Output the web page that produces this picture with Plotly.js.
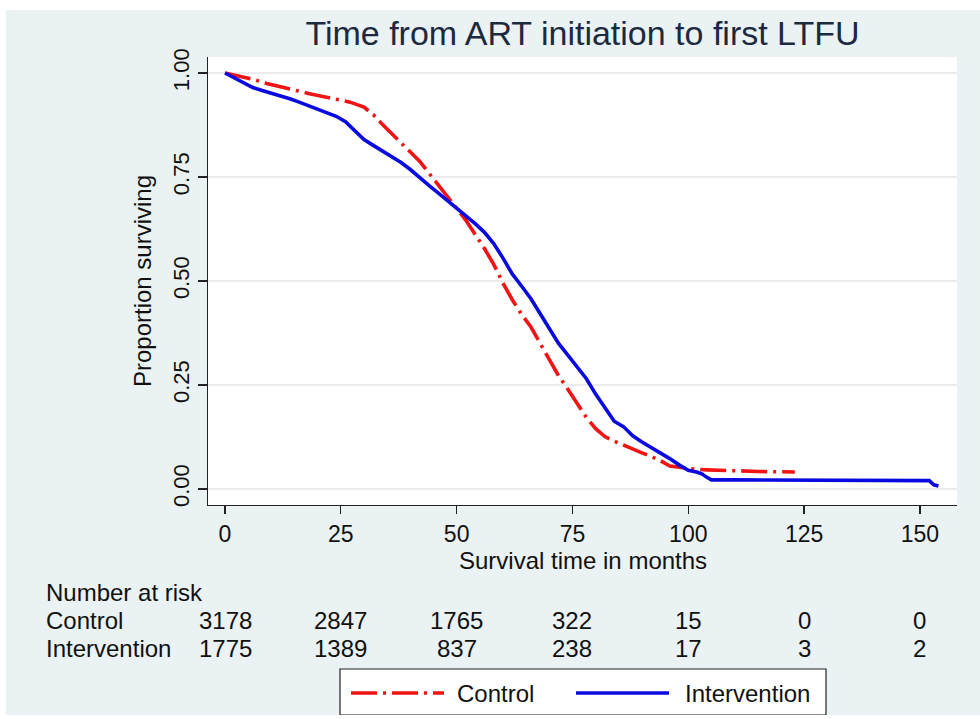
<!DOCTYPE html>
<html><head><meta charset="utf-8">
<script src="https://cdn.plot.ly/plotly-3.0.1.min.js"></script>
<style>
html,body{margin:0;padding:0;background:#ffffff;}
#chart{position:absolute;left:6px;top:10px;width:974px;height:705px;}
</style>
</head><body><div id="chart"></div>
<script>
// Kaplan-Meier estimates
const controlTime = [0,3,6,9,12,15,18,21,24,27,30,32,34,36,38,40,42,44,46,48,50,52,54,56,58,60,62,64,66,68,70,72,74,76,78,80,82,84,86,88,90,92,94,96,98,100,102,104,106,110,115,120,123];
const controlSurv = [1.000,0.993,0.985,0.975,0.966,0.959,0.951,0.944,0.938,0.930,0.918,0.900,0.876,0.853,0.831,0.810,0.788,0.760,0.732,0.704,0.675,0.646,0.612,0.578,0.540,0.495,0.455,0.420,0.390,0.350,0.310,0.272,0.240,0.205,0.172,0.145,0.126,0.115,0.105,0.096,0.087,0.078,0.068,0.055,0.052,0.050,0.047,0.046,0.046,0.044,0.042,0.041,0.041];

const interventionTime = [0,2,4,6,8,10,12,14,16,18,20,22,24,26,28,30,32,34,36,38,40,42,44,46,48,50,52,54,56,58,60,62,64,66,68,70,72,74,76,78,80,82,84,86,88,90,92,94,96,98,100,102,103,104,105,110,120,130,140,150,152,153,154];
const interventionSurv = [1.000,0.988,0.975,0.965,0.958,0.952,0.946,0.938,0.930,0.922,0.914,0.906,0.896,0.883,0.862,0.840,0.826,0.812,0.799,0.785,0.768,0.748,0.730,0.712,0.694,0.675,0.658,0.638,0.617,0.590,0.555,0.517,0.488,0.458,0.422,0.384,0.350,0.322,0.293,0.265,0.228,0.195,0.163,0.150,0.128,0.113,0.100,0.088,0.073,0.058,0.045,0.040,0.036,0.028,0.022,0.022,0.022,0.022,0.022,0.022,0.020,0.010,0.007];

const riskTimes = [0,25,50,75,100,125,150];
const controlAtRisk = [3178,2847,1765,322,15,0,0];
const interventionAtRisk = [1775,1389,837,238,17,3,2];

const xTickVals = [0,25,50,75,100,125,150];
const yTickVals = [0,0.25,0.5,0.75,1];
const yTickText = ['0.00','0.25','0.50','0.75','1.00'];

const seriesNames = ['Control','Intervention'];
const titleText = 'Time from ART initiation to first LTFU';
const xTitle = 'Survival time in months';
const yTitle = 'Proportion surviving';
const riskHeader = 'Number at risk';

const FONT = '"Liberation Sans", Arial, sans-serif';
const RED = '#f01414';
const BLUE = '#0a0ae0';
const RED_DASH = '26px,6px,3px,6px';

// page pixel -> paper coordinates of the plot area (208..957 x, 57..505 y)
const PL = 208, PR = 957, PT = 57, PB = 505;
const px = v => (v - PL) / (PR - PL);
const py = v => (PB - v) / (PB - PT);

const traces = [
  {x: controlTime, y: controlSurv, type: 'scatter', mode: 'lines', name: seriesNames[0],
   line: {color: RED, width: 3.6, dash: RED_DASH}, showlegend: false},
  {x: interventionTime, y: interventionSurv, type: 'scatter', mode: 'lines', name: seriesNames[1],
   line: {color: BLUE, width: 3.6}, showlegend: false}
];

const TXT = {family:FONT, size:24, color:'#111'};
const annotations = [];
annotations.push({xref:'paper', yref:'paper', x: px(47), y: py(592), xanchor:'left', yanchor:'middle', xshift:-3,
  text: riskHeader, showarrow:false, font:TXT});
annotations.push({xref:'paper', yref:'paper', x: px(47), y: py(620), xanchor:'left', yanchor:'middle', xshift:-3,
  text: seriesNames[0], showarrow:false, font:TXT});
annotations.push({xref:'paper', yref:'paper', x: px(47), y: py(648), xanchor:'left', yanchor:'middle', xshift:-3,
  text: seriesNames[1], showarrow:false, font:TXT});
riskTimes.forEach((t, i) => {
  annotations.push({xref:'x', yref:'paper', x: t, y: py(620), xanchor:'center', yanchor:'middle',
    text: String(controlAtRisk[i]), showarrow:false, font:TXT});
  annotations.push({xref:'x', yref:'paper', x: t, y: py(648), xanchor:'center', yanchor:'middle',
    text: String(interventionAtRisk[i]), showarrow:false, font:TXT});
});
// x axis title as annotation for exact placement
annotations.push({xref:'paper', yref:'paper', x: 0.5, y: py(560), xanchor:'center', yanchor:'middle',
  text: xTitle, showarrow:false, font:TXT});
// legend texts
annotations.push({xref:'paper', yref:'paper', x: px(458), y: py(693), xanchor:'left', yanchor:'middle', xshift:-3,
  text: seriesNames[0], showarrow:false, font:TXT});
annotations.push({xref:'paper', yref:'paper', x: px(686), y: py(693), xanchor:'left', yanchor:'middle', xshift:-3,
  text: seriesNames[1], showarrow:false, font:TXT});

const shapes = [
  {type:'rect', xref:'paper', yref:'paper', x0: px(340), x1: px(826), y0: py(715), y1: py(669),
   fillcolor:'#ffffff', line:{color:'#222', width:1.2}, layer:'above'},
  {type:'line', xref:'paper', yref:'paper', x0: px(351), x1: px(444), y0: py(693), y1: py(693),
   line:{color: RED, width: 3.6, dash: RED_DASH}, layer:'above'},
  {type:'line', xref:'paper', yref:'paper', x0: px(576), x1: px(669), y0: py(693), y1: py(693),
   line:{color: BLUE, width: 3.6}, layer:'above'}
];

const layout = {
  width: 974, height: 705,
  paper_bgcolor: '#eaf2f3',
  plot_bgcolor: '#ffffff',
  margin: {l: PL - 6, r: 980 - PR, t: PT - 10, b: 715 - PB, pad: 0},
  title: {text: titleText, x: 0.5, xref: 'paper', xanchor: 'center', y: 1 - 23/705, yref:'container', yanchor: 'middle',
          font: {family: FONT, size: 34, color: '#1c2a40'}},
  font: {family: FONT, color: '#111'},
  xaxis: {
    range: [-3.67, 158.0], tickvals: xTickVals, ticks: 'outside', ticklen: 8, tickwidth: 1.3, tickcolor: '#222',
    showline: true, linecolor: '#222', linewidth: 1.3, showgrid: false, zeroline: false,
    tickfont: {family: FONT, size: 23, color: '#111'}
  },
  yaxis: {
    range: [-0.0385, 1.0385], tickvals: yTickVals, ticktext: yTickText, tickangle: -90,
    ticks: 'outside', ticklen: 9, tickwidth: 1.3, tickcolor: '#222',
    showline: true, linecolor: '#222', linewidth: 1.3, showgrid: true, gridcolor: '#ececec', gridwidth: 1.2, zeroline: false,
    tickfont: {family: FONT, size: 22, color: '#111'},
    title: {text: yTitle, font: {family: FONT, size: 24, color: '#111'}, standoff: 10}
  },
  annotations: annotations,
  shapes: shapes,
  showlegend: false
};

Plotly.newPlot('chart', traces, layout, {displayModeBar: false, staticPlot: true});
</script>
</body></html>
